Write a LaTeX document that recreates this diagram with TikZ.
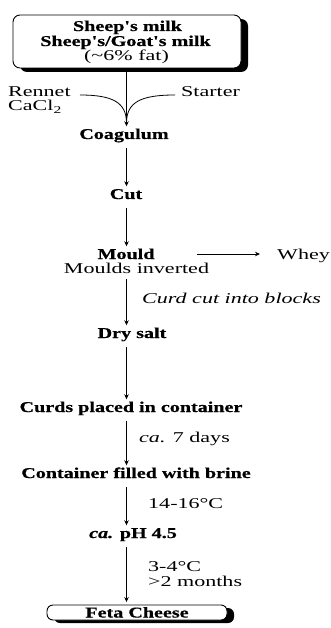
\documentclass[tikz,border=0pt]{standalone}
\usepackage{fontspec}
\setmainfont{Liberation Serif}[FakeStretch=1.47]
\newfontfamily\bfF{Liberation Serif}[FakeStretch=1.34, FakeBold=0.6]
\usetikzlibrary{arrows.meta}
\tikzset{
  bnode/.style={font=\bfF\bfseries\fontsize{15}{15}\selectfont, inner sep=0pt, text height=10pt, text depth=3pt, anchor=base},
  rnode/.style={font=\fontsize{15}{15}\selectfont, inner sep=0pt, anchor=base},
  lnode/.style={font=\fontsize{15}{15}\selectfont, inner sep=0pt, anchor=base west},
  arr/.style={draw, line width=0.8pt, -{Stealth[length=5pt,width=4.5pt]}, shorten <=6pt, shorten >=2.5pt},
  plain/.style={draw, line width=0.8pt},
  boxst/.style={draw, line width=0.9pt, fill=white, rounded corners=7pt, inner sep=0pt},
  shadowst/.style={fill=black, rounded corners=7pt},
}
\begin{document}
\begin{tikzpicture}[x=1pt,y=-1pt]
\useasboundingbox (0,0) rectangle (331,628);
\coordinate (ax) at (126.5,0);
% top box
\coordinate (mbnw) at (13,15);
\coordinate (mbse) at (241,68);
\fill[shadowst] ([xshift=7pt,yshift=-4pt]mbnw) rectangle ([xshift=7pt,yshift=-4pt]mbse);
\node[boxst, minimum width=228pt, minimum height=53pt] (milkbox) at (127,41.5) {};
\node[bnode] (l1) at (127.5,31) {Sheep's milk};
\node[bnode] (l2) at (125.5,46) {Sheep's/Goat's milk};
\node[rnode] (l3) at (126.5,60.5) {(\textasciitilde6\% fat)};
% additions
\node[lnode] (rennet) at (8,97) {Rennet};
\node[lnode] (cacl) at (8,111) {CaCl\textsubscript{2}};
\node[lnode] (starter) at (181,97) {Starter};
\coordinate (rs) at (80,95);
\coordinate (ss) at (175,95);
\coordinate (mg) at (126.5,123);
% main steps
\node[bnode] (coag) at (124,139) {Coagulum};
\node[bnode] (cut) at (126,199) {Cut};
\node[bnode] (mould) at (126,259) {Mould};
\node[rnode] (inv) at (136.5,273) {Moulds inverted};
\node[lnode] (whey) at (277,259) {Whey};
\node[lnode, font=\itshape\fontsize{15}{15}\selectfont] (blocks) at (142,303) {Curd cut into blocks};
\node[bnode] (dry) at (132,338) {Dry salt};
\node[bnode] (curds) at (131,412) {Curds placed in container};
\node[lnode] (days) at (139,442) {\textit{ca.} 7 days};
\node[bnode] (brine) at (136,478) {Container filled with brine};
\node[lnode] (t1) at (148,508) {14-16°C};
\node[bnode] (ph) at (133,538) {{\itshape ca.} pH 4.5};
\node[lnode] (t2) at (148,571) {3-4°C};
\node[lnode] (t3) at (148,586) {>2 months};
% feta box
\coordinate (fbnw) at (47,605);
\coordinate (fbse) at (227,620);
\fill[shadowst, rounded corners=6pt] ([xshift=7pt,yshift=-3pt]fbnw) rectangle ([xshift=7pt,yshift=-3pt]fbse);
\node[boxst, rounded corners=6pt, minimum width=180pt, minimum height=15pt, font=\bfF\bfseries\fontsize{15}{15}\selectfont, text height=10pt, text depth=0pt] (feta) at (137,612.5) {Feta Cheese};
% connectors
\draw[arr, shorten <=0pt] (milkbox.south -| ax) -- (coag.north -| ax);
\draw[plain] (rs) .. controls (112,95) and (126.5,102) .. (mg);
\draw[plain] (ss) .. controls (141,95) and (126.5,102) .. (mg);
\draw[arr] (coag.south -| ax) -- (cut.north -| ax);
\draw[arr] (cut.south -| ax) -- (mould.north -| ax);
\coordinate (ws) at (197,254);
\draw[arr, shorten <=0pt, shorten >=17pt] (ws) -- (ws -| whey.west);
\draw[arr] (inv.south -| ax) -- (dry.north -| ax);
\draw[arr] (dry.south -| ax) -- (curds.north -| ax);
\draw[arr] (curds.south -| ax) -- (brine.north -| ax);
\draw[arr] (brine.south -| ax) -- (ph.north -| ax);
\draw[arr] (ph.south -| ax) -- (feta.north -| ax);
\end{tikzpicture}
\end{document}
